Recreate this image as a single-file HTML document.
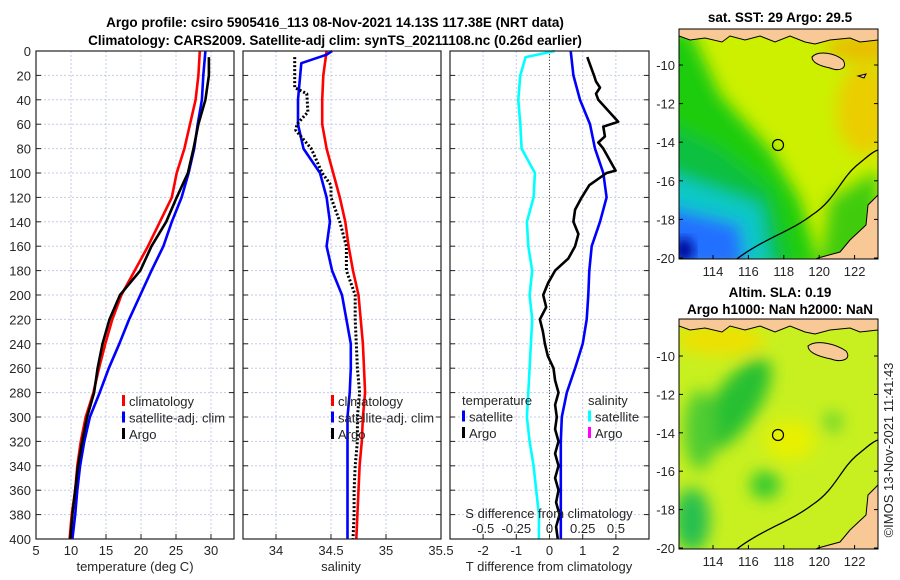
<!DOCTYPE html>
<html><head><meta charset="utf-8"><style>
body{margin:0;background:#fff;}
svg{display:block;font-family:"Liberation Sans",sans-serif;}
.t{font-size:13px;fill:#262626;}
.b{font-size:13.5px;font-weight:bold;fill:#000;}
</style></head><body>
<svg id="fig" width="900" height="580" viewBox="0 0 900 580">
<defs>
<filter id="blur" x="-20%" y="-20%" width="140%" height="140%"><feGaussianBlur stdDeviation="8"/></filter>
<filter id="blur2" x="-20%" y="-20%" width="140%" height="140%"><feGaussianBlur stdDeviation="5"/></filter>
<clipPath id="m1"><rect x="679" y="29" width="199" height="230"/></clipPath>
<clipPath id="m2"><rect x="679" y="319" width="199" height="230"/></clipPath>
</defs>
<text class="b" x="335" y="27" text-anchor="middle">Argo profile: csiro 5905416_113 08-Nov-2021 14.13S 117.38E (NRT data)</text>
<text class="b" x="335" y="45" text-anchor="middle">Climatology: CARS2009. Satellite-adj clim: synTS_20211108.nc (0.26d earlier)</text>
<g id="panels"></g>
<!-- Map 1 -->
<g>
<text class="b" x="780" y="22" text-anchor="middle">sat. SST: 29 Argo: 29.5</text>
<g clip-path="url(#m1)">
<rect x="679" y="29" width="199" height="230" fill="#ccf000"/>
<g filter="url(#blur)">
<ellipse cx="865" cy="110" rx="28" ry="45" fill="#f0c800" opacity="0.85"/>
<ellipse cx="865" cy="48" rx="40" ry="14" fill="#f0b000" opacity="0.8"/>
<polygon points="660,30 690,30 720,95 770,150 800,200 820,270 660,270" fill="#1ecc10"/>
<polygon points="660,120 720,150 770,190 790,270 660,270" fill="#10c040"/>
<polygon points="660,170 760,205 770,270 660,270" fill="#10c8c8"/>
<polygon points="660,205 740,225 745,270 660,270" fill="#2070ff"/>
<polygon points="830,200 878,170 878,270 820,270" fill="#40cc10"/>
</g>
<ellipse cx="684" cy="250" rx="10" ry="12" fill="#0010a0" filter="url(#blur2)"/>
<path d="M679,29 L878,29 L878,40 L860,42 L850,38 L830,40 L815,44 L805,42 L790,36 L775,42 L760,36 L745,40 L730,36 L722,42 L705,38 L690,40 L679,36 Z" fill="#f8c896" stroke="#000" stroke-width="1"/>
<path d="M812,57 C818,50 835,53 843,60 C848,68 840,72 830,68 C820,66 812,63 812,57 Z" fill="#f8c896" stroke="#000" stroke-width="1"/>
<path d="M858,76 L866,74 L864,78 Z" fill="#f8c896" stroke="#000" stroke-width="1"/>
<path d="M733,262 C760,240 790,232 812,215 C835,200 840,180 856,166 C866,158 872,152 878,150" fill="none" stroke="#000" stroke-width="1.3"/>
<path d="M878,195 L868,205 L866,225 L850,240 L840,252 L818,258 L810,262 L878,262 Z" fill="#f8c896" stroke="#000" stroke-width="1"/>
<circle cx="778" cy="145" r="5.5" fill="none" stroke="#000" stroke-width="1.2"/>
</g>
<rect x="679" y="29" width="199" height="230" fill="none" stroke="#000" stroke-width="1"/>
</g>
<!-- Map 2 -->
<g>
<text class="b" x="780" y="297" text-anchor="middle">Altim. SLA: 0.19</text>
<text class="b" x="780" y="314" text-anchor="middle">Argo h1000: NaN h2000: NaN</text>
<g clip-path="url(#m2)">
<rect x="679" y="319" width="199" height="230" fill="#c8f020"/>
<g filter="url(#blur)">
<ellipse cx="720" cy="340" rx="45" ry="15" fill="#eee000"/>
<ellipse cx="735" cy="405" rx="22" ry="55" transform="rotate(35 735 405)" fill="#28c030"/>
<ellipse cx="700" cy="430" rx="16" ry="40" fill="#50cc30"/>
<ellipse cx="692" cy="520" rx="18" ry="32" fill="#28c050"/>
<ellipse cx="765" cy="485" rx="15" ry="14" fill="#30c830"/>
<ellipse cx="833" cy="422" rx="9" ry="10" fill="#60d030"/>
<ellipse cx="790" cy="440" rx="25" ry="20" fill="#e8f000"/>
</g>
<path d="M679,319 L878,319 L878,330 L860,332 L850,328 L830,330 L815,334 L805,332 L790,326 L775,332 L760,326 L745,330 L730,326 L722,332 L705,328 L690,330 L679,326 Z" fill="#f8c896" stroke="#000" stroke-width="1"/>
<path d="M808,346 C816,339 836,344 846,351 C852,359 842,363 831,359 C821,357 808,353 808,346 Z" fill="#f8c896" stroke="#000" stroke-width="1"/>
<path d="M733,552 C760,530 790,522 812,505 C835,490 840,470 856,456 C866,448 872,442 878,440" fill="none" stroke="#000" stroke-width="1.3"/>
<path d="M878,485 L868,495 L866,515 L850,530 L840,542 L818,548 L810,552 L878,552 Z" fill="#f8c896" stroke="#000" stroke-width="1"/>
<circle cx="778" cy="435" r="5.5" fill="none" stroke="#000" stroke-width="1.2"/>
</g>
<rect x="679" y="319" width="199" height="230" fill="none" stroke="#000" stroke-width="1"/>
</g>
<g id="maplabels"></g>
<text class="t" transform="translate(893,450) rotate(-90)" text-anchor="middle">©IMOS 13-Nov-2021 11:41:43</text>
</svg>
<script>
// ---- data ----
const depths = [0,20,40,60,80,100,120,140,160,180,200,220,240,260,280,300,320,340,360,380,400];
const tempClim = [28.4,28.2,27.8,27.0,26.2,25.1,24.4,22.7,21.0,19.1,17.2,15.9,14.9,14.0,13.2,12.1,11.4,10.9,10.6,10.1,9.8];
const tempSat = [29.2,28.9,28.7,28.1,27.6,26.8,25.8,24.4,23.2,21.5,19.9,18.3,16.9,15.4,14.1,12.7,11.9,11.3,10.9,10.6,10.2];
const argoDepths = [5,20,40,60,80,100,120,140,160,180,200,220,240,260,280,300,320,340,360,380,400];
const tempArgo = [29.7,29.7,29.2,28.2,27.5,26.7,25.1,23.6,21.5,19.9,17.0,15.5,14.5,13.8,13.3,12.3,11.6,11.0,10.6,10.2,9.9];
const salClim = [34.46,34.43,34.42,34.42,34.46,34.52,34.58,34.63,34.66,34.70,34.75,34.77,34.79,34.80,34.81,34.79,34.78,34.76,34.75,34.74,34.73];
const salSatDepths = [0,3,10,20,40,60,80,100,120,140,160,180,200,220,240,260,280,300,320,340,360,380,400];
const salSat = [34.51,34.46,34.23,34.22,34.20,34.20,34.25,34.40,34.46,34.49,34.46,34.51,34.60,34.64,34.68,34.68,34.67,34.65,34.65,34.65,34.65,34.65,34.65];
const salArgoDepths = [5,20,30,35,50,60,65,80,100,110,120,140,160,180,200,220,240,260,280,300,320,340,360,380,400];
const salArgo = [34.17,34.17,34.17,34.28,34.29,34.19,34.18,34.32,34.42,34.50,34.50,34.58,34.64,34.64,34.72,34.72,34.73,34.74,34.76,34.74,34.74,34.72,34.71,34.71,34.70];
const dSalSatDepths = [0,5,20,40,60,80,100,120,140,160,180,200,220,240,260,280,300,320,340,360,380,400];
const dSalSat = [0.04,-0.18,-0.22,-0.235,-0.22,-0.21,-0.11,-0.12,-0.17,-0.16,-0.13,-0.15,-0.13,-0.14,-0.15,-0.16,-0.17,-0.15,-0.12,-0.10,-0.08,-0.08];
const dTempSat = [0.64,0.72,0.92,1.22,1.37,1.62,1.72,1.52,1.27,1.20,1.17,1.12,1.00,0.77,0.52,0.37,0.34,0.34,0.34,0.34,0.34];
const dTempArgoDepths = [5,20,25,30,35,40,58,62,70,75,80,98,100,110,120,130,140,150,160,170,180,190,200,210,220,230,240,250,260,270,280,290,300,310,320,330,340,350,360,370,380,390,400];
const dTempArgo = [1.14,1.34,1.40,1.52,1.40,1.47,2.07,1.62,1.67,1.47,1.62,1.99,1.72,1.20,0.97,0.77,0.72,0.87,0.77,0.57,0.17,-0.04,-0.19,-0.10,-0.29,-0.20,-0.14,-0.05,0.12,0.17,0.27,0.17,0.22,0.17,0.27,0.17,0.27,0.17,0.27,0.20,0.30,0.20,0.25];
const depthTicks = [0,20,40,60,80,100,120,140,160,180,200,220,240,260,280,300,320,340,360,380,400];
const tempTicks = [5,10,15,20,25,30];
const salTicks = [34,34.5,35,35.5];
const dTempTicks = [-2,-1,0,1,2];
const dSalTicks = [-0.5,-0.25,0,0.25,0.5];
const latTicks = [-10,-12,-14,-16,-18,-20];
const lonTicks = [114,116,118,120,122];

// ---- scales ----
const Y0=51, Y1=539;
const yD = d => Y0 + (Y1-Y0)*d/400;
const xT = t => 36 + 7*(t-5);
const xS = s => 276 + 110*(s-34);
const xDT = t => 549.5 + 33.2*t;
const xDS = s => 549.5 + 132.8*s;
const NS='http://www.w3.org/2000/svg';
const root=document.getElementById('panels');
function mk(tag, attrs, parent){const e=document.createElementNS(NS,tag);for(const k in attrs)e.setAttribute(k,attrs[k]);(parent||root).appendChild(e);return e;}
function txt(s,x,y,anchor,parent,cls){const e=mk('text',{x:x,y:y,'text-anchor':anchor||'middle','class':cls||'t'},parent);e.textContent=s;return e;}

function panel(name,x0,x1,xticks,xf,xlabels,showY){
  const g=mk('g',{});
  
  
  mk('rect',{x:x0,y:Y0,width:x1-x0,height:Y1-Y0,fill:'#fff'},g);
  depthTicks.forEach(d=>{ if(d>0&&d<400) mk('line',{x1:x0,x2:x1,y1:yD(d),y2:yD(d),stroke:'#c5cde6','stroke-dasharray':'2,2','stroke-width':1},g);
    mk('line',{x1:x0,x2:x0+5,y1:yD(d),y2:yD(d),stroke:'#222'},g);
    mk('line',{x1:x1-5,x2:x1,y1:yD(d),y2:yD(d),stroke:'#222'},g);
    if(showY){const l=txt(String(d),31,yD(d)+5,'end',g);
      
      }
  });
  xticks.forEach((v,i)=>{const x=xf(v); if(x>x0+2&&x<x1-2) mk('line',{x1:x,x2:x,y1:Y0,y2:Y1,stroke:'#c5cde6','stroke-dasharray':'2,2'},g);
    mk('line',{x1:x,x2:x,y1:Y1,y2:Y1-5,stroke:'#222'},g);
    const l=txt(xlabels[i],x,Y1+16,'middle',g);
    
    
  });
  return g;
}
function line(g,xs,ys,xf,color,w,dash,name){
  const pts=xs.map((v,i)=>xf(v).toFixed(1)+','+yD(ys[i]).toFixed(1)).join(' ');
  const p=mk('polyline',{points:pts,fill:'none',stroke:color,'stroke-width':w,'stroke-linejoin':'round'},g);
  if(dash)p.setAttribute('stroke-dasharray',dash);
  
  
}
function frame(g,x0,x1){mk('rect',{x:x0,y:Y0,width:x1-x0,height:Y1-Y0,fill:'none',stroke:'#222','stroke-width':1.2},g);}
function legend(g,x,y,items){items.forEach((it,i)=>{
  if(it[0]) mk('rect',{x:x,y:y+i*16.5-11,width:3,height:11,fill:it[0]},g);
  const l=txt(it[1],x+(it[0]?7:0),y+i*16.5,'start',g);
  
  
});}

// Panel 1
const g1=panel('temperature-panel',36,234,tempTicks,xT,tempTicks.map(String),true);
line(g1,tempClim,depths,xT,'#ff0000',2.6,null,'temp-climatology-line');
line(g1,tempSat,depths,xT,'#0000ff',2.6,null,'temp-satellite-line');
line(g1,tempArgo,argoDepths,xT,'#000',2.6,null,'temp-argo-line');
frame(g1,36,234);
legend(g1,122,406,[['#ff0000','climatology'],['#0000ff','satellite-adj. clim'],['#000','Argo']]);
let l=txt('temperature (deg C)',135,571,'middle',g1);



// Panel 2
const g2=panel('salinity-panel',243,441,salTicks,xS,['34','34.5','35','35.5'],false);
line(g2,salClim,depths,xS,'#ff0000',2.6,null,'sal-climatology-line');
line(g2,salSat,salSatDepths,xS,'#0000ff',2.6,null,'sal-satellite-line');
line(g2,salArgo,salArgoDepths,xS,'#000',3,'2,2','sal-argo-line');
frame(g2,243,441);
legend(g2,331,406,[['#ff0000','climatology'],['#0000ff','satellite-adj. clim'],['#000','Argo']]);
l=txt('salinity',341,571,'middle',g2);



// Panel 3
const g3=panel('difference-panel',450,649,dTempTicks,xDT,dTempTicks.map(String),false);
mk('line',{x1:xDT(0),x2:xDT(0),y1:Y0,y2:Y1,stroke:'#4a4a2a','stroke-dasharray':'1,2'},g3);
line(g3,dSalSat,dSalSatDepths,xDS,'#00ffff',2.6,null,'sal-diff-satellite-line');
line(g3,dTempSat,depths,xDT,'#0000ff',2.6,null,'temp-diff-satellite-line');
line(g3,dTempArgo,dTempArgoDepths,xDT,'#000',2.6,null,'temp-diff-argo-line');
frame(g3,450,649);
legend(g3,462,405,[[null,'temperature'],['#0000ff','satellite'],['#000','Argo']]);
legend(g3,588,405,[[null,'salinity'],['#00ffff','satellite'],['#ff00ff','Argo']]);
l=txt('S difference from climatology',549,518,'middle',g3);


dSalTicks.forEach(v=>{const e=txt(String(v),xDS(v),533,'middle',g3);
  
  });
l=txt('T difference from climatology',549,571,'middle',g3);



// map labels
const ml=document.getElementById('maplabels');
const latY1 = v => 65 + (v+10)*(-19.3);
const latY2 = v => 356 + (v+10)*(-19.2);
const lonX = v => 713 + (v-114)*17.7;
latTicks.forEach(v=>{
  [[latY1(v),29,259],[latY2(v),319,549]].forEach(a=>{
    mk('line',{x1:679,x2:683,y1:a[0],y2:a[0],stroke:'#000'},ml);
    mk('line',{x1:874,x2:878,y1:a[0],y2:a[0],stroke:'#000'},ml);
    const e=txt(String(v),675,a[0]+5,'end',ml);
    
    
  });
});
lonTicks.forEach(v=>{
  [[259,276],[549,566]].forEach(a=>{
    mk('line',{x1:lonX(v),x2:lonX(v),y1:a[0],y2:a[0]-4,stroke:'#000'},ml);
    const e=txt(String(v),lonX(v),a[1],'middle',ml);
    
    
  });
});
</script>
</body></html>
